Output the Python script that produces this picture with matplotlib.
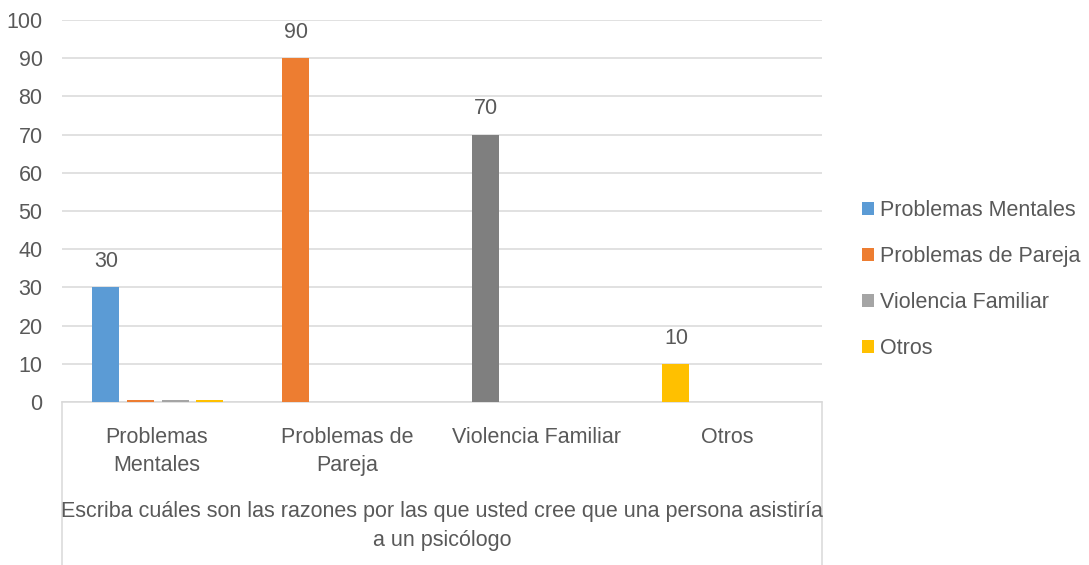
import matplotlib
matplotlib.use("Agg")
import matplotlib.pyplot as plt
from matplotlib.lines import Line2D
from matplotlib.patches import Patch
import numpy as np

# ---- data ----
categories = ["Problemas\nMentales", "Problemas de\nPareja", "Violencia Familiar", "Otros"]
legend_labels = ["Problemas Mentales", "Problemas de Pareja", "Violencia Familiar", "Otros"]
counts = [30, 90, 70, 10]                     # first slot in each group
extra_pareja = [0.4, 0, 0, 0]                  # tiny bars in the first group
extra_violencia = [0.4, 0, 0, 0]
extra_otros = [0.4, 0, 0, 0]
group_title = "Escriba cuáles son las razones por las que usted cree que una persona asistiría\na un psicólogo"
yticks = list(range(0, 101, 10))

# ---- style ----
point_colors = ["#5B9BD5", "#ED7D31", "#7F7F7F", "#FFC000"]
legend_colors = ["#5B9BD5", "#ED7D31", "#A5A5A5", "#FFC000"]
text_color = "#595959"
grid_color = "#D9D9D9"
FONT = "Liberation Sans"
FS = 15.5

plt.rcParams['font.family'] = [FONT, 'DejaVu Sans']

W, H = 1089, 565
fig = plt.figure(figsize=(W / 100, H / 100), dpi=100)
x0, x1, ytop, ybot = 62, 822, 20, 402
ax = fig.add_axes([x0 / W, 1 - ybot / H, (x1 - x0) / W, (ybot - ytop) / H])

x = np.arange(len(categories))
slot = 0.182
bw = 0.142
offsets = np.array([-1.5, -0.5, 0.5, 1.5]) * slot + 0.004

bars = ax.bar(x + offsets[0], counts, width=bw, color=point_colors, zorder=3)
extras = [extra_pareja, extra_violencia, extra_otros]
for i, vals in enumerate(extras):
    ax.bar(x + offsets[i + 1], vals, width=bw, color=legend_colors[i + 1], zorder=3)

for xi, v in zip(x + offsets[0], counts):
    ax.annotate(str(v), (xi, v), xytext=(0, 11), textcoords="offset points",
                ha="center", va="bottom", fontsize=FS, color=text_color)

ax.set_xlim(-0.5, len(categories) - 0.5)
ax.set_ylim(0, 100)
ax.set_yticks(yticks)
ax.yaxis.grid(True, color=grid_color, linewidth=1.1, zorder=0)
ax.set_axisbelow(True)
for s in ["top", "left", "right"]:
    ax.spines[s].set_visible(False)
ax.spines["bottom"].set_color(grid_color)
ax.spines["bottom"].set_linewidth(1.1)
ax.tick_params(axis="y", length=0, pad=14, labelsize=FS, labelcolor=text_color)
ax.set_xticks(x)
ax.set_xticklabels(categories, fontsize=FS, color=text_color, linespacing=1.45)
ax.tick_params(axis="x", length=0, pad=18)

# multi-level axis box lines
for xp in (x0, x1):
    fig.add_artist(Line2D([xp / W, xp / W], [0, 1 - ybot / H], color=grid_color, lw=1.1))

fig.text((x0 + x1) / 2 / W, 1 - 526 / H, group_title, ha="center", va="center",
         fontsize=FS, color=text_color, linespacing=1.5)

handles = [Patch(facecolor=c, edgecolor="none") for c in legend_colors]
fig.legend(handles, legend_labels, loc="center left",
           bbox_to_anchor=(862 / W, 1 - 279.5 / H), frameon=False,
           fontsize=FS, labelcolor=text_color, handlelength=0.56, handleheight=0.56,
           handletextpad=0.28, labelspacing=1.17, borderpad=0, borderaxespad=0)

fig.savefig("out.png", dpi=100, facecolor="white")
